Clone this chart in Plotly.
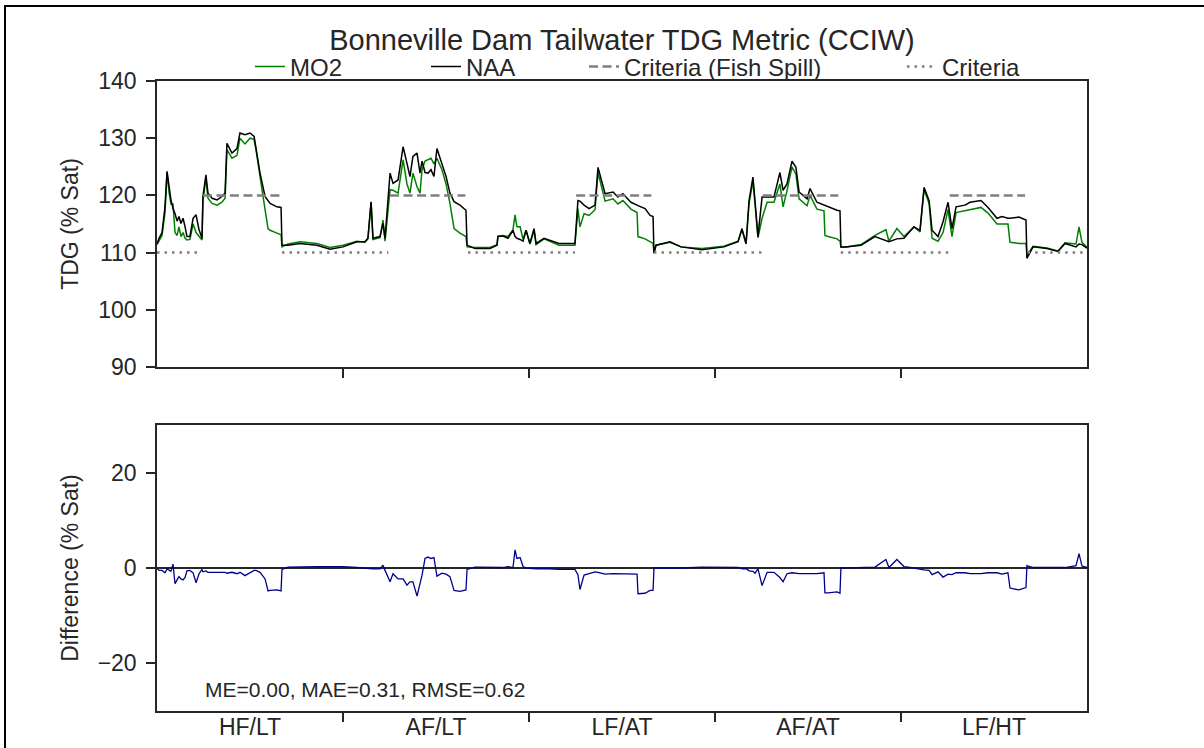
import plotly.graph_objects as go
from plotly.subplots import make_subplots

# ---- data -------------------------------------------------------------
periods = ["HF/LT", "AF/LT", "LF/AT", "AF/AT", "LF/HT"]
period_centers = [0.5, 1.5, 2.5, 3.5, 4.5]
period_bounds = [1, 2, 3, 4]

time = [0.000, 0.011, 0.027, 0.043, 0.054, 0.065, 0.075, 0.086, 0.097, 0.108,
        0.118, 0.129, 0.140, 0.151, 0.161, 0.177, 0.194, 0.210, 0.226, 0.242,
        0.247, 0.263, 0.274, 0.296, 0.323, 0.349, 0.366, 0.376, 0.403, 0.430,
        0.446, 0.473, 0.500, 0.522, 0.532, 0.554, 0.581, 0.597, 0.608, 0.645,
        0.667, 0.672, 0.704, 0.769, 0.860, 0.930, 1.000, 1.075, 1.118, 1.134,
        1.151, 1.161, 1.199, 1.215, 1.226, 1.253, 1.269, 1.296, 1.323, 1.344,
        1.360, 1.376, 1.398, 1.414, 1.425, 1.441, 1.457, 1.473, 1.489, 1.505,
        1.532, 1.554, 1.575, 1.597, 1.629, 1.661, 1.667, 1.710, 1.790, 1.828,
        1.833, 1.860, 1.887, 1.914, 1.925, 1.935, 1.952, 1.968, 1.984, 2.005,
        2.027, 2.038, 2.081, 2.161, 2.247, 2.263, 2.274, 2.296, 2.323, 2.355,
        2.371, 2.392, 2.409, 2.452, 2.478, 2.505, 2.548, 2.581, 2.586, 2.624,
        2.651, 2.667, 2.672, 2.683, 2.758, 2.817, 2.930, 3.048, 3.124, 3.145,
        3.167, 3.183, 3.204, 3.215, 3.231, 3.253, 3.280, 3.317, 3.349, 3.366,
        3.387, 3.414, 3.435, 3.452, 3.495, 3.511, 3.548, 3.586, 3.591, 3.608,
        3.656, 3.672, 3.677, 3.704, 3.785, 3.860, 3.919, 3.935, 3.978, 4.016,
        4.070, 4.102, 4.124, 4.151, 4.167, 4.199, 4.226, 4.253, 4.274, 4.296,
        4.344, 4.371, 4.430, 4.468, 4.516, 4.543, 4.575, 4.586, 4.634, 4.672,
        4.677, 4.710, 4.785, 4.844, 4.882, 4.941, 4.957, 4.973, 5.000]

naa = [111.5, 112.5, 113.5, 118.0, 124.2, 121.0, 119.2, 117.7, 116.8, 115.5,
       116.3, 115.1, 116.0, 114.5, 112.8, 112.8, 116.0, 116.6, 114.0, 112.5,
       119.8, 123.6, 120.4, 119.5, 119.2, 119.8, 120.4, 129.1, 127.4, 128.2,
       130.9, 130.6, 130.9, 130.3, 128.5, 123.9, 119.8, 119.0, 118.6, 118.0,
       117.9, 111.3, 111.3, 111.6, 111.3, 110.6, 111.0, 111.9, 111.9, 112.5,
       118.9, 112.5, 112.8, 115.1, 112.5, 123.9, 122.1, 122.7, 128.5, 125.6,
       123.3, 126.8, 127.4, 123.9, 126.0, 124.0, 123.9, 124.5, 123.3, 128.2,
       125.6, 123.3, 120.4, 118.9, 118.3, 117.4, 111.3, 110.7, 110.7, 111.3,
       112.8, 112.9, 112.5, 113.9, 112.8, 112.5, 112.3, 112.0, 113.9, 111.6,
       114.2, 111.6, 112.5, 111.6, 111.6, 119.1, 119.0, 118.3, 117.7, 118.3,
       124.9, 122.6, 120.3, 120.6, 119.7, 120.3, 118.8, 118.3, 118.2, 117.7,
       116.5, 116.3, 109.9, 111.3, 111.9, 111.0, 110.5, 111.0, 111.9, 114.2,
       111.6, 119.1, 123.2, 119.1, 112.8, 119.7, 119.7, 119.7, 124.0, 120.9,
       122.0, 126.0, 124.9, 120.6, 119.4, 121.2, 118.8, 118.3, 118.2, 118.0,
       117.4, 117.3, 111.0, 111.0, 111.3, 112.8, 112.2, 111.9, 112.4, 112.5,
       114.5, 113.9, 121.4, 119.1, 113.9, 112.8, 115.4, 118.8, 114.2, 118.0,
       118.3, 118.8, 119.1, 117.9, 116.0, 116.3, 116.0, 116.0, 116.2, 115.7,
       109.0, 111.0, 110.7, 110.2, 111.6, 111.0, 111.5, 111.4, 110.8]

mo2 = [111.4, 112.0, 113.0, 117.0, 124.0, 120.5, 118.5, 118.5, 113.5, 113.0,
       114.5, 112.8, 113.5, 112.5, 112.2, 112.3, 115.0, 113.5, 112.8, 112.2,
       119.0, 123.0, 119.5, 118.6, 118.3, 118.8, 119.5, 128.0, 126.5, 127.0,
       130.0, 129.0, 130.0, 129.8, 128.0, 123.0, 117.5, 114.2, 113.9, 113.4,
       113.1, 111.0, 111.5, 111.9, 111.6, 110.9, 111.3, 112.0, 111.8, 112.4,
       118.8, 112.3, 112.6, 115.7, 112.0, 121.0, 120.9, 120.4, 126.2, 122.0,
       120.4, 123.9, 121.5, 120.4, 124.5, 126.0, 126.2, 126.5, 125.5, 126.5,
       124.5, 122.0, 118.6, 114.2, 113.4, 112.8, 111.0, 110.9, 110.9, 111.4,
       112.9, 113.0, 112.8, 114.0, 116.6, 114.5, 114.5, 112.3, 113.9, 111.5,
       113.9, 111.4, 112.4, 111.3, 111.3, 117.7, 114.5, 116.8, 116.5, 117.5,
       124.0, 121.5, 119.0, 119.4, 118.5, 119.1, 117.6, 117.0, 112.8, 112.4,
       111.8, 111.6, 109.9, 111.3, 111.8, 111.0, 110.7, 111.1, 112.0, 114.0,
       111.5, 118.5, 122.5, 118.0, 112.6, 116.0, 118.8, 118.8, 122.0, 118.0,
       120.8, 125.0, 123.7, 119.4, 118.2, 120.0, 117.6, 117.3, 113.0, 112.8,
       112.4, 112.0, 111.0, 111.0, 111.4, 113.0, 114.0, 112.0, 114.2, 112.8,
       114.5, 113.6, 121.0, 118.6, 112.5, 112.0, 113.5, 117.5, 112.8, 117.0,
       117.3, 117.6, 117.9, 116.9, 115.0, 115.0, 115.0, 111.8, 111.6, 111.6,
       109.5, 111.1, 110.8, 110.3, 111.7, 111.5, 114.5, 111.8, 110.9]

# criteria periods: (start, end) in the same time units
fish_spill_periods = [(0.247, 0.658), (1.253, 1.658), (2.253, 2.658), (3.257, 3.663), (4.262, 4.667)]
other_periods = [(0.0, 0.236), (0.672, 1.244), (1.672, 2.247), (2.672, 3.252), (3.676, 4.256), (4.681, 5.0)]
fish_spill_level = 120
criteria_level = 110

stats_text = "ME=0.00, MAE=0.31, RMSE=0.62"

# ---- derived ---------------------------------------------------------
diff = [round(m - n, 2) for m, n in zip(mo2, naa)]


def segments(periods_list, level):
    xs, ys = [], []
    for a, b in periods_list:
        xs += [a, b, None]
        ys += [level, level, None]
    return xs, ys


fs_x, fs_y = segments(fish_spill_periods, fish_spill_level)
cr_x, cr_y = segments(other_periods, criteria_level)

# ---- figure ----------------------------------------------------------
FONT = "Liberation Sans, Arial, Helvetica, sans-serif"
AX = "#262626"

fig = make_subplots(rows=2, cols=1, shared_xaxes=False)

fig.add_trace(go.Scatter(x=time, y=mo2, mode="lines", name="MO2",
                         line=dict(color="green", width=1.5), legend="legend"), 1, 1)
fig.add_trace(go.Scatter(x=time, y=naa, mode="lines", name="NAA",
                         line=dict(color="black", width=1.5), legend="legend2"), 1, 1)
fig.add_trace(go.Scatter(x=fs_x, y=fs_y, mode="lines", name="Criteria (Fish Spill)",
                         line=dict(color="#7f7f7f", width=2.5, dash="9px,4.5px"),
                         legend="legend3"), 1, 1)
fig.add_trace(go.Scatter(x=cr_x, y=cr_y, mode="lines", name="Criteria",
                         line=dict(color="#7f7f7f", width=2.5, dash="2.5px,5px"),
                         legend="legend4"), 1, 1)
fig.add_trace(go.Scatter(x=time, y=diff, mode="lines", name="Difference",
                         line=dict(color="#00008B", width=1.3), showlegend=False), 2, 1)

axis_common = dict(showline=True, linecolor=AX, linewidth=1.5, mirror=True,
                   showgrid=False, ticks="outside", ticklen=9, tickwidth=1.5,
                   automargin=False,
                   tickcolor=AX, tickfont=dict(family=FONT, size=23, color=AX))

fig.update_layout(
    width=1204, height=748, autosize=False,
    margin=dict(l=157, r=117, t=81, b=37, autoexpand=False),
    paper_bgcolor="white", plot_bgcolor="white",
    font=dict(family=FONT, color=AX),
    title=dict(text="Bonneville Dam Tailwater TDG Metric (CCIW)",
               x=0.5, xref="paper", xanchor="center",
               y=1 - 40 / 748, yanchor="middle",
               font=dict(family=FONT, size=29, color=AX)),
    xaxis=dict(domain=[0, 1], range=[0, 5], tickvals=period_bounds,
               showticklabels=False, zeroline=False, anchor="y", **axis_common),
    yaxis=dict(domain=[344 / 630, 1], range=[90, 140], dtick=10, zeroline=False,
               ticklabelstandoff=5, anchor="x",
               title=dict(text="TDG (% Sat)", standoff=13,
                          font=dict(family=FONT, size=23, color=AX)),
               **axis_common),
    xaxis2=dict(domain=[0, 1], range=[0, 5], tickvals=period_centers,
                ticktext=periods, zeroline=False, anchor="y2",
                ticklabelstandoff=-5,
                **{**axis_common, "ticks": ""},
                minor=dict(tickvals=period_bounds, ticks="outside", ticklen=9,
                           tickwidth=1.5, tickcolor=AX)),
    yaxis2=dict(domain=[0, 286 / 630], range=[-30, 30], tickvals=[-20, 0, 20],
                zeroline=True, zerolinecolor=AX, zerolinewidth=1.5,
                ticklabelstandoff=5, anchor="x2",
                title=dict(text="Difference (% Sat)", standoff=13,
                           font=dict(family=FONT, size=23, color=AX)),
                **axis_common),
)

leg_common = dict(orientation="h", yref="paper", y=1 + 14 / 630, yanchor="middle",
                  xanchor="left", bgcolor="rgba(0,0,0,0)", borderwidth=0,
                  font=dict(family=FONT, size=24, color=AX))
fig.update_layout(
    legend=dict(x=(250 - 157) / 930, **leg_common),
    legend2=dict(x=(426 - 157) / 930, **leg_common),
    legend3=dict(x=(584 - 157) / 930, **leg_common),
    legend4=dict(x=(902 - 157) / 930, **leg_common),
)

fig.add_annotation(text=stats_text, xref="paper", yref="paper",
                   x=(203 - 157) / 930, y=22 / 630, xanchor="left", yanchor="middle",
                   showarrow=False, font=dict(family=FONT, size=21, color=AX))

# figure frame (visible on top and left edges)
fig.add_shape(type="rect", xref="paper", yref="paper",
              x0=(5 - 157) / 930, x1=1.3, y0=-0.2, y1=(711 - 6) / 630,
              line=dict(color="black", width=2), fillcolor="rgba(0,0,0,0)", layer="above")

# the page's default body margin would shift the 1204x748 figure; remove it
fig.write_html("out.html",
               config={"displayModeBar": False},
               post_script="document.body.style.margin='0px';document.body.style.overflow='hidden';")
